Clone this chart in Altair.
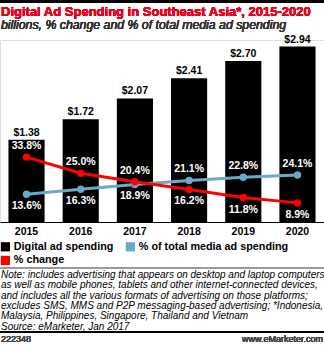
import altair as alt
import pandas as pd

years = ["2015", "2016", "2017", "2018", "2019", "2020"]
spend = [1.38, 1.72, 2.07, 2.41, 2.70, 2.94]
spend_labels = ["$1.38", "$1.72", "$2.07", "$2.41", "$2.70", "$2.94"]
pct_total = [13.6, 16.3, 18.9, 21.1, 22.8, 24.1]
pct_change = [33.8, 25.0, 20.4, 16.2, 11.8, 8.9]

S_BAR = "Digital ad spending"
S_TOT = "% of total media ad spending"
S_CHG = "% change"

title = "Digital Ad Spending in Southeast Asia*, 2015-2020"
subtitle = "billions,  % change and % of total media ad spending"
note_lines = [
    "Note: includes advertising that appears on desktop and laptop computers",
    "as well as mobile phones, tablets and other internet-connected devices,",
    "and includes all the various formats of advertising on those platforms;",
    "excludes SMS, MMS and P2P messaging-based advertising; *Indonesia,",
    "Malaysia, Philippines, Singapore, Thailand and Vietnam",
    "Source: eMarketer, Jan 2017",
]
footer_id = "222348"

FONT = "Liberation Sans"
BLUE = "#6CA8CA"
RED = "#FF0000"

bars_df = pd.DataFrame({"year": years, "value": spend, "label": spend_labels, "series": S_BAR})

rows = []
for i, y in enumerate(years):
    rows.append({"year": y, "series": S_TOT, "value": pct_total[i],
                 "label": f"{pct_total[i]:.1f}%", "above": pct_total[i] > pct_change[i]})
    rows.append({"year": y, "series": S_CHG, "value": pct_change[i],
                 "label": f"{pct_change[i]:.1f}%", "above": pct_change[i] > pct_total[i]})
lines_df = pd.DataFrame(rows)

x_enc = alt.X("year:N", title=None,
              scale=alt.Scale(paddingInner=0.333, paddingOuter=0.156),
              axis=alt.Axis(labelAngle=0, ticks=False, domainColor="#000000", domainWidth=1,
                            labelFont=FONT, labelFontSize=10.5, labelFontWeight="bold",
                            labelColor="#000000", labelPadding=4, grid=False))

color_scale = alt.Scale(domain=[S_BAR, S_TOT, S_CHG], range=["#000000", BLUE, RED])
legend = alt.Legend(orient="none", legendX=0, legendY=201, title=None, columns=2,
                    direction="horizontal",
                    symbolType="square", symbolSize=85, symbolStrokeWidth=0,
                    labelFont=FONT, labelFontSize=10.8, labelFontWeight="bold",
                    labelColor="#000000", columnPadding=11, rowPadding=2, labelOffset=3)

bars = alt.Chart(bars_df).mark_bar().encode(
    x=x_enc,
    y=alt.Y("value:Q", scale=alt.Scale(domain=[0, 3.05]), axis=None),
    color=alt.Color("series:N", scale=color_scale, legend=legend),
)
bar_text = alt.Chart(bars_df).mark_text(
    baseline="bottom", dy=-2, font=FONT, fontSize=10.5, fontWeight="bold", color="#000000"
).encode(
    x=alt.X("year:N"),
    y=alt.Y("value:Q", scale=alt.Scale(domain=[0, 3.05]), axis=None),
    text="label:N",
)
bar_layer = alt.layer(bars, bar_text)

yl = alt.Y("value:Q", scale=alt.Scale(domain=[-1.5, 97.5]), axis=None)
line = alt.Chart(lines_df).mark_line(strokeWidth=3).encode(
    x=alt.X("year:N"), y=yl,
    color=alt.Color("series:N", scale=color_scale, legend=legend),
    order=alt.Order("year:N"),
)
pts = alt.Chart(lines_df).mark_circle(size=55, opacity=1).encode(
    x=alt.X("year:N"), y=yl,
    color=alt.Color("series:N", scale=color_scale, legend=legend),
)
lab_above = alt.Chart(lines_df).transform_filter("datum.above").mark_text(
    baseline="middle", dy=-11, font=FONT, fontSize=10.5, fontWeight="bold", color="#FFFFFF"
).encode(x=alt.X("year:N"), y=yl, text="label:N")
lab_below = alt.Chart(lines_df).transform_filter("!datum.above").mark_text(
    baseline="middle", dy=12, font=FONT, fontSize=10.5, fontWeight="bold", color="#FFFFFF"
).encode(x=alt.X("year:N"), y=yl, text="label:N")
line_layer = alt.layer(line, pts, lab_above, lab_below)

# decorations (layout positions in pixels relative to plot area)
top_rule = alt.Chart(bars_df).mark_rule(color="#000000", strokeWidth=3).encode(
    x=alt.value(0), x2=alt.value(324), y=alt.value(-38.5))
title_t = alt.Chart(bars_df).mark_text(
    align="left", baseline="middle", font=FONT, fontSize=13, fontWeight="bold", color="#E8001C"
).encode(x=alt.value(1), y=alt.value(-28), text=alt.value(title))
subtitle_t = alt.Chart(bars_df).mark_text(
    align="left", baseline="middle", font=FONT, fontSize=12.3, fontStyle="italic", color="#333333"
).encode(x=alt.value(1), y=alt.value(-15), text=alt.value(subtitle))
gray_rule = alt.Chart(bars_df).mark_rule(color="#999999", strokeWidth=1).encode(
    x=alt.value(0), x2=alt.value(324), y=alt.value(228))
note_df = pd.DataFrame({"line": note_lines, "i": list(range(len(note_lines)))})
note_t = alt.Chart(note_df).mark_text(
    align="left", baseline="middle", font=FONT, fontSize=10, fontStyle="italic", color="#000000"
).encode(x=alt.value(1), y=alt.Y("i:O", axis=None,
         scale=alt.Scale(type="point", range=[235, 286.5], padding=0)), text="line:N")
bottom_rule = alt.Chart(bars_df).mark_rule(color="#000000", strokeWidth=2).encode(
    x=alt.value(0), x2=alt.value(324), y=alt.value(292))
footer_t = alt.Chart(bars_df).mark_text(
    align="left", baseline="middle", font=FONT, fontSize=9, color="#444444"
).encode(x=alt.value(1), y=alt.value(299), text=alt.value(footer_id))
brand_t = alt.Chart(bars_df).mark_text(
    align="right", baseline="middle", font=FONT, fontSize=9, color="#444444"
).encode(x=alt.value(323), y=alt.value(299), text=alt.value("www.eMarketer.com"))

chart = alt.layer(
    bar_layer, line_layer, top_rule, title_t, subtitle_t, gray_rule, note_t,
    bottom_rule, footer_t, brand_t
).resolve_scale(y="independent").properties(
    width=324, height=182,
    padding={"left": 0, "top": 40, "right": 0, "bottom": 123},
    autosize=alt.AutoSizeParams(type="none"),
).configure_view(stroke=None).configure(background="#FFFFFF")

chart.save("out.html", embed_options={"renderer": "svg", "actions": False})
